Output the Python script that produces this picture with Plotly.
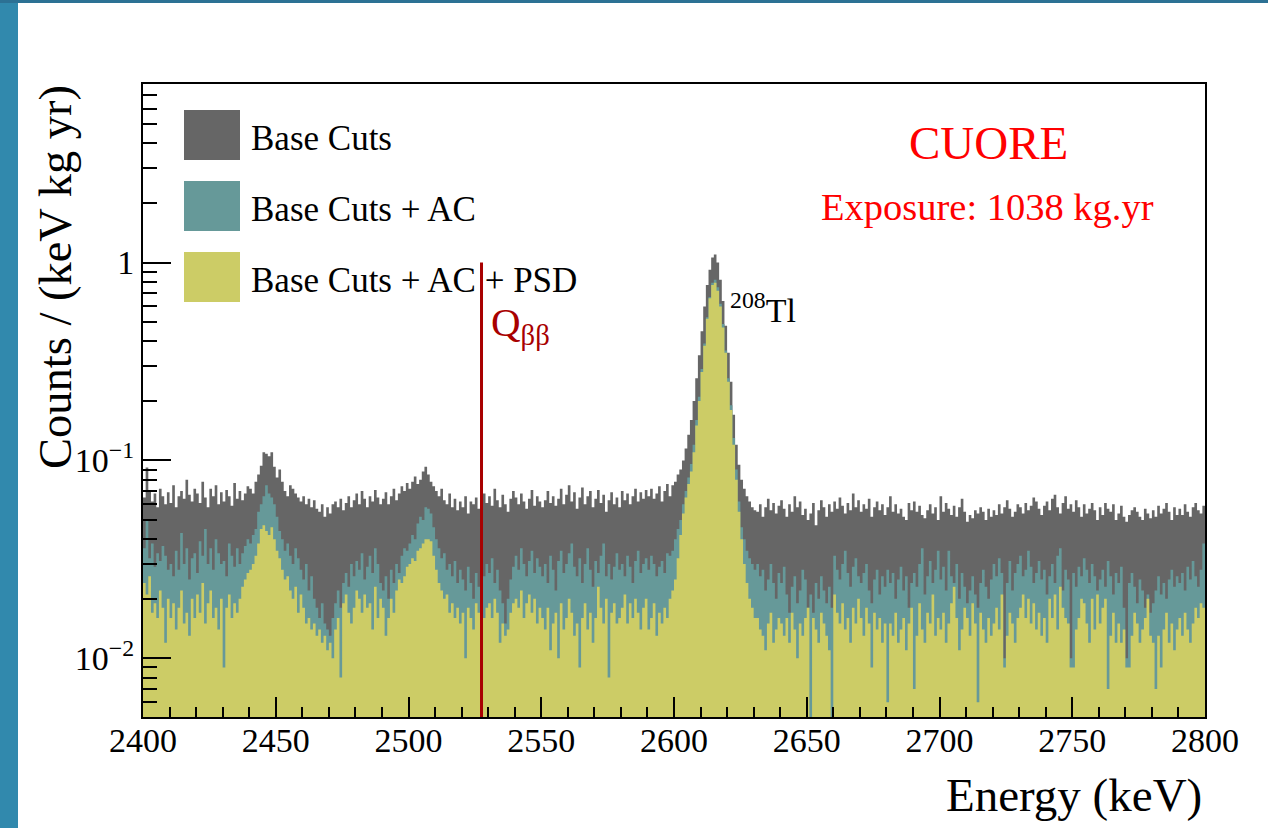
import plotly.graph_objects as go

# ---------------- data (counts / (keV kg yr), 1 keV bins from 2400 to 2800) ----------------
bin_start = 2400
bin_width = 1
q_bb = 2527.5

base_cuts = [
    0.065, 0.092, 0.07, 0.062, 0.068, 0.058, 0.072, 0.066, 0.06, 0.069,
    0.061, 0.075, 0.058, 0.066, 0.07, 0.064, 0.08, 0.067, 0.062, 0.072,
    0.068, 0.061, 0.078, 0.065, 0.058, 0.072, 0.066, 0.075, 0.06, 0.069,
    0.062, 0.071, 0.066, 0.059, 0.077, 0.064, 0.07, 0.063, 0.068, 0.074,
    0.072, 0.068, 0.078, 0.085, 0.094, 0.11, 0.108, 0.105, 0.11, 0.093,
    0.082, 0.09, 0.078, 0.07, 0.066, 0.075, 0.072, 0.068, 0.065, 0.062,
    0.066, 0.06, 0.064, 0.058, 0.063, 0.057, 0.055, 0.06, 0.052, 0.058,
    0.054, 0.06, 0.062, 0.058, 0.064, 0.056, 0.061, 0.066, 0.058, 0.063,
    0.068, 0.06, 0.07, 0.064, 0.058, 0.066, 0.062, 0.071, 0.065, 0.06,
    0.064, 0.069, 0.06, 0.066, 0.072, 0.063, 0.068, 0.074, 0.07, 0.077,
    0.072, 0.078, 0.083, 0.076, 0.08, 0.088, 0.093, 0.085, 0.078, 0.074,
    0.07, 0.066, 0.072, 0.063, 0.06, 0.068, 0.058, 0.064, 0.056, 0.062,
    0.058, 0.066, 0.054, 0.062, 0.06, 0.065, 0.057, 0.063, 0.068, 0.061,
    0.066, 0.059, 0.072, 0.063, 0.058, 0.067, 0.06, 0.055, 0.064, 0.07,
    0.065, 0.06, 0.068, 0.062, 0.057, 0.064, 0.071, 0.059, 0.066, 0.062,
    0.058, 0.063, 0.07, 0.061, 0.066, 0.059, 0.064, 0.072, 0.06, 0.067,
    0.075, 0.062, 0.069, 0.057, 0.065, 0.073, 0.06, 0.066, 0.07, 0.058,
    0.064, 0.071, 0.061, 0.067, 0.055, 0.063, 0.069, 0.06, 0.065, 0.058,
    0.07, 0.063, 0.068, 0.06, 0.066, 0.072, 0.062, 0.069, 0.064, 0.071,
    0.066, 0.072, 0.064, 0.068, 0.074, 0.062, 0.07, 0.076, 0.066, 0.075,
    0.078, 0.085, 0.09, 0.1, 0.115, 0.135, 0.16, 0.2, 0.26, 0.34,
    0.45, 0.6, 0.77, 0.92, 1.06, 1.1, 1.0, 0.82, 0.64, 0.48,
    0.35, 0.25, 0.17, 0.12, 0.095, 0.08, 0.072, 0.066, 0.062, 0.058,
    0.056, 0.055, 0.06, 0.052, 0.058, 0.064, 0.056, 0.061, 0.054, 0.059,
    0.063, 0.057, 0.052, 0.06, 0.055, 0.066, 0.058, 0.062, 0.053, 0.057,
    0.05, 0.054, 0.061, 0.047, 0.056, 0.063, 0.058, 0.052, 0.06, 0.055,
    0.062, 0.057, 0.065, 0.059, 0.054, 0.061, 0.056, 0.068, 0.058, 0.063,
    0.055, 0.06, 0.057, 0.064, 0.052, 0.058, 0.062, 0.056, 0.06, 0.053,
    0.058, 0.066, 0.055, 0.06, 0.054, 0.057, 0.052, 0.05, 0.061, 0.056,
    0.062, 0.055, 0.059, 0.053, 0.051, 0.056, 0.06, 0.054, 0.058, 0.05,
    0.066, 0.055, 0.061, 0.057, 0.053, 0.059, 0.052, 0.058, 0.064, 0.055,
    0.049, 0.053, 0.051, 0.056, 0.054, 0.058, 0.055, 0.05, 0.057, 0.052,
    0.056, 0.053, 0.06, 0.054, 0.058, 0.063, 0.057, 0.052, 0.055, 0.06,
    0.058, 0.054, 0.061, 0.056, 0.059, 0.065, 0.062, 0.057, 0.053, 0.059,
    0.062, 0.056, 0.064, 0.067, 0.058, 0.054, 0.061, 0.066, 0.057, 0.06,
    0.055, 0.063, 0.058, 0.052, 0.06, 0.054, 0.057, 0.061, 0.056, 0.05,
    0.058, 0.053, 0.061, 0.057, 0.055, 0.06, 0.05, 0.054, 0.059, 0.052,
    0.049, 0.053, 0.056, 0.058, 0.055, 0.052, 0.05, 0.057, 0.054, 0.051,
    0.056, 0.052, 0.059, 0.054, 0.057, 0.061, 0.055, 0.05, 0.058, 0.053,
    0.057, 0.053, 0.06, 0.055, 0.052, 0.058, 0.061, 0.056, 0.054, 0.059,
]

base_cuts_ac = [
    0.036, 0.05, 0.032, 0.038, 0.029, 0.034, 0.031, 0.037, 0.033, 0.028,
    0.03, 0.026, 0.035, 0.028, 0.043, 0.03, 0.036, 0.025, 0.032, 0.034,
    0.027, 0.039, 0.033, 0.045, 0.03, 0.036, 0.028, 0.04, 0.034, 0.03,
    0.031, 0.026, 0.038, 0.033, 0.029, 0.036, 0.03, 0.034, 0.037, 0.04,
    0.038, 0.042, 0.045, 0.055, 0.06, 0.066, 0.075, 0.068, 0.065, 0.06,
    0.052, 0.044, 0.04, 0.035, 0.038, 0.033, 0.03, 0.036, 0.032, 0.028,
    0.025, 0.03, 0.022, 0.026, 0.02, 0.018, 0.016, 0.019, 0.015, 0.014,
    0.013, 0.016, 0.019, 0.022, 0.018, 0.024, 0.027, 0.023, 0.03, 0.026,
    0.031, 0.028, 0.034, 0.025, 0.029, 0.033, 0.027, 0.036, 0.03, 0.024,
    0.022, 0.026, 0.02, 0.028, 0.024, 0.03, 0.027, 0.033, 0.036, 0.035,
    0.038, 0.042, 0.04, 0.048, 0.052, 0.05, 0.058, 0.057, 0.054, 0.046,
    0.04, 0.036, 0.032, 0.034, 0.028, 0.03, 0.026, 0.031, 0.024, 0.028,
    0.025, 0.022, 0.029, 0.024, 0.02, 0.027, 0.023, 0.018, 0.026, 0.03,
    0.027, 0.032, 0.024, 0.028, 0.022, 0.019, 0.015, 0.02, 0.025, 0.029,
    0.033, 0.028, 0.036, 0.03, 0.026, 0.031, 0.035, 0.027, 0.032, 0.029,
    0.026, 0.03, 0.024, 0.033, 0.028, 0.022, 0.031, 0.035, 0.027, 0.03,
    0.034, 0.038, 0.029, 0.026, 0.032, 0.024, 0.03, 0.036, 0.028, 0.023,
    0.031, 0.027, 0.033, 0.038, 0.026, 0.03, 0.025, 0.029, 0.034, 0.028,
    0.03, 0.026, 0.033, 0.029, 0.024, 0.031, 0.035, 0.027, 0.03, 0.032,
    0.028, 0.033, 0.03, 0.026, 0.029, 0.031, 0.027, 0.034, 0.033, 0.035,
    0.04, 0.045, 0.05, 0.06, 0.07, 0.082, 0.096, 0.12, 0.16, 0.21,
    0.29, 0.39, 0.53, 0.67, 0.79, 0.82, 0.75, 0.62, 0.49, 0.36,
    0.26, 0.19, 0.13, 0.09, 0.062, 0.046, 0.04, 0.035, 0.032, 0.03,
    0.028, 0.03, 0.026, 0.028, 0.022, 0.025, 0.03, 0.024, 0.02, 0.027,
    0.024, 0.029, 0.021, 0.017, 0.023, 0.026, 0.019, 0.022, 0.028, 0.025,
    0.018, 0.021, 0.017, 0.024, 0.02, 0.026, 0.022, 0.019, 0.023, 0.018,
    0.033, 0.028, 0.025, 0.03, 0.035, 0.027, 0.023, 0.029, 0.032, 0.026,
    0.024, 0.027, 0.03, 0.022, 0.019, 0.025, 0.028, 0.021, 0.026, 0.023,
    0.028, 0.024, 0.027, 0.02, 0.025, 0.029, 0.022, 0.026, 0.018, 0.024,
    0.027, 0.023, 0.03, 0.036, 0.021, 0.026, 0.031, 0.024, 0.028, 0.035,
    0.025, 0.029, 0.022, 0.035, 0.026, 0.024, 0.03, 0.02, 0.027, 0.023,
    0.019, 0.022, 0.026, 0.021, 0.018, 0.024, 0.028, 0.023, 0.02, 0.025,
    0.03, 0.026, 0.032, 0.027, 0.01, 0.024, 0.031, 0.022, 0.027, 0.03,
    0.033, 0.026, 0.028, 0.035, 0.029, 0.024, 0.027, 0.031, 0.025, 0.028,
    0.021, 0.026, 0.03, 0.024, 0.033, 0.036, 0.022, 0.028, 0.025, 0.01,
    0.027, 0.023, 0.029, 0.026, 0.032, 0.028, 0.024, 0.03, 0.026, 0.022,
    0.025, 0.028, 0.023, 0.031, 0.026, 0.021, 0.027, 0.024, 0.029, 0.018,
    0.01, 0.024, 0.027, 0.023, 0.019, 0.025, 0.022, 0.018, 0.021, 0.017,
    0.019, 0.022, 0.026, 0.021, 0.024, 0.02, 0.025, 0.028, 0.023, 0.026,
    0.024, 0.027, 0.022, 0.029, 0.025, 0.031, 0.026, 0.023, 0.028, 0.038,
]

base_cuts_ac_psd = [
    0.024, 0.021, 0.026, 0.017, 0.019, 0.016, 0.022, 0.018, 0.012, 0.02,
    0.016, 0.019, 0.014, 0.018, 0.022, 0.015, 0.017, 0.013, 0.02, 0.016,
    0.021, 0.017, 0.024, 0.015, 0.019, 0.022, 0.016, 0.018, 0.014, 0.02,
    0.009, 0.018, 0.021, 0.016, 0.019, 0.017, 0.02, 0.023, 0.025, 0.027,
    0.028, 0.03, 0.033, 0.038, 0.045, 0.047, 0.044, 0.042, 0.046, 0.04,
    0.035, 0.032, 0.028, 0.025, 0.026, 0.022, 0.02, 0.023, 0.017, 0.021,
    0.018, 0.015, 0.016, 0.014, 0.015, 0.013, 0.014, 0.012, 0.013, 0.011,
    0.012, 0.01, 0.014, 0.016, 0.008, 0.019, 0.021, 0.017, 0.015, 0.018,
    0.022, 0.02, 0.017, 0.021, 0.018, 0.019, 0.014, 0.023, 0.016, 0.02,
    0.018, 0.013, 0.016, 0.02, 0.017, 0.022, 0.025, 0.024, 0.026, 0.029,
    0.03, 0.032, 0.031, 0.035, 0.036, 0.038, 0.04, 0.04, 0.039, 0.033,
    0.028, 0.024, 0.022, 0.02, 0.021, 0.017, 0.019, 0.016, 0.018, 0.015,
    0.017, 0.01, 0.018, 0.016, 0.014, 0.019, 0.017, 0.015, 0.016, 0.018,
    0.019, 0.016, 0.02, 0.017, 0.012, 0.015, 0.013, 0.014, 0.017, 0.019,
    0.02, 0.018, 0.022, 0.016, 0.019, 0.021, 0.017, 0.02, 0.015, 0.018,
    0.016, 0.014, 0.018, 0.011, 0.015, 0.017, 0.01, 0.019, 0.014, 0.016,
    0.02, 0.017, 0.013, 0.015, 0.009, 0.016, 0.019, 0.014, 0.017, 0.012,
    0.016, 0.023, 0.018, 0.015, 0.02, 0.008, 0.017, 0.019, 0.015, 0.016,
    0.018, 0.021, 0.015, 0.019, 0.016, 0.02, 0.017, 0.014, 0.018, 0.02,
    0.014, 0.016, 0.019, 0.013, 0.017, 0.015, 0.018, 0.016, 0.02, 0.022,
    0.025, 0.032, 0.042, 0.054, 0.065, 0.076, 0.088, 0.11, 0.15, 0.2,
    0.28, 0.38, 0.52, 0.66, 0.77, 0.79, 0.72, 0.6, 0.47, 0.35,
    0.25, 0.18, 0.12, 0.08, 0.055, 0.04, 0.03, 0.024, 0.02, 0.018,
    0.016, 0.016, 0.014, 0.013, 0.011, 0.015, 0.017, 0.012, 0.014, 0.016,
    0.015, 0.013, 0.016, 0.012, 0.017, 0.014, 0.01, 0.015, 0.013, 0.016,
    0.018, 0.005, 0.016, 0.014, 0.012, 0.017, 0.015, 0.013, 0.011, 0.005,
    0.021, 0.017, 0.015, 0.019, 0.014, 0.016, 0.012, 0.018, 0.015, 0.02,
    0.016, 0.013, 0.018, 0.015, 0.009, 0.017, 0.014, 0.016, 0.012, 0.015,
    0.006, 0.015, 0.013, 0.017, 0.012, 0.014, 0.016, 0.011, 0.015, 0.018,
    0.007, 0.013, 0.019, 0.014, 0.012, 0.017, 0.015, 0.021, 0.013, 0.016,
    0.014, 0.017, 0.012, 0.015, 0.019, 0.023, 0.016, 0.011, 0.014, 0.018,
    0.016, 0.013, 0.019, 0.015, 0.006, 0.017, 0.014, 0.012, 0.016, 0.013,
    0.015, 0.018, 0.014, 0.021, 0.009, 0.013, 0.017, 0.015, 0.012, 0.016,
    0.018, 0.021, 0.016, 0.02, 0.015, 0.019, 0.014, 0.017, 0.013, 0.016,
    0.012, 0.02, 0.016, 0.021, 0.014, 0.023, 0.018, 0.016, 0.015, 0.009,
    0.009, 0.014, 0.016, 0.02, 0.019, 0.015, 0.012, 0.02, 0.014, 0.021,
    0.015, 0.018, 0.02, 0.007, 0.013, 0.017, 0.012, 0.015, 0.012, 0.014,
    0.009, 0.009, 0.013, 0.017, 0.015, 0.012, 0.014, 0.016, 0.02, 0.013,
    0.012, 0.007, 0.013, 0.009, 0.014, 0.017, 0.012, 0.015, 0.011, 0.014,
    0.016, 0.013, 0.017, 0.014, 0.012, 0.015, 0.018, 0.016, 0.019, 0.018,
]

series_names = ["Base Cuts", "Base Cuts + AC", "Base Cuts + AC + PSD"]
series_colors = ["#666666", "#669999", "#cccc66"]
y_tick_vals = [0.01, 0.1, 1]
y_tick_text = ["10<sup>\u22122</sup>", "10<sup>\u22121</sup>", "1"]
x_tick_vals = [2400, 2450, 2500, 2550, 2600, 2650, 2700, 2750, 2800]

assert len(base_cuts) == len(base_cuts_ac) == len(base_cuts_ac_psd) == 400

# ---------------- figure geometry (pixels) ----------------
W, H = 1268, 828
L, R, T, B = 143, 1205, 84, 717
PW, PH = R - L, B - T


def px(x):
    return (x - L) / PW


def py(y):
    return (B - y) / PH


FONT = "Liberation Serif, Times New Roman, serif"
n_bins = len(base_cuts)
edges = [bin_start + i * bin_width for i in range(n_bins + 1)]
floor = 1e-4


def step_polygon(vals):
    xs, ys = [edges[0]], [floor]
    for i, v in enumerate(vals):
        xs += [edges[i], edges[i + 1]]
        ys += [v, v]
    xs.append(edges[-1])
    ys.append(floor)
    return xs, ys


fig = go.Figure()
for name, vals, col in zip(series_names, [base_cuts, base_cuts_ac, base_cuts_ac_psd], series_colors):
    xs, ys = step_polygon(vals)
    fig.add_trace(go.Scatter(x=xs, y=ys, mode="lines", fill="toself", fillcolor=col,
                             line=dict(width=0, color=col), name=name, showlegend=False,
                             hoverinfo="skip"))

# Q_bb line
fig.add_trace(go.Scatter(x=[q_bb, q_bb], y=[1.0, floor], mode="lines",
                         line=dict(color="#a80000", width=3), showlegend=False, hoverinfo="skip"))

minor_y = [d * 10.0 ** e for e in (-3, -2, -1, 0) for d in range(2, 10)]

fig.update_layout(
    width=W, height=H, autosize=False,
    margin=dict(l=L, r=W - R, t=T, b=H - B, pad=0),
    paper_bgcolor="white", plot_bgcolor="white",
    font=dict(family=FONT, color="black", size=34),
    showlegend=False,
    xaxis=dict(range=[2400, 2800], tickvals=x_tick_vals, ticks="inside", ticklen=20, tickwidth=1.5,
               tickcolor="black", showgrid=False, zeroline=False, showline=True, mirror=True,
               linecolor="black", linewidth=2, tickfont=dict(size=34, family=FONT),
               ticklabelstandoff=-8,
               minor=dict(ticks="inside", ticklen=10, tickwidth=1.5, tickcolor="black", dtick=10, tick0=2400,
                          showgrid=False)),
    yaxis=dict(type="log", range=[-2.2965, 0.9025], tickvals=y_tick_vals, ticktext=y_tick_text,
               ticks="inside", ticklen=28, tickwidth=1.5, tickcolor="black", showgrid=False, zeroline=False,
               showline=True, mirror=True, linecolor="black", linewidth=2, tickfont=dict(size=34, family=FONT),
               minor=dict(ticks="inside", ticklen=14, tickwidth=1.5, tickcolor="black", tickvals=minor_y,
                          showgrid=False)),
)

shapes = []
# slide background strips
shapes.append(dict(type="rect", xref="paper", yref="paper", x0=px(0), x1=px(18), y0=py(H), y1=py(0),
                   fillcolor="#3189ad", line=dict(width=0), layer="below"))
shapes.append(dict(type="rect", xref="paper", yref="paper", x0=px(0), x1=px(W), y0=py(3), y1=py(0),
                   fillcolor="#2c7194", line=dict(width=0), layer="below"))

annotations = []
legend_rows = [(110, 160), (181, 231), (252, 302)]
for (y0, y1), name, col in zip(legend_rows, series_names, series_colors):
    shapes.append(dict(type="rect", xref="paper", yref="paper", x0=px(184), x1=px(240), y0=py(y1), y1=py(y0),
                       fillcolor=col, line=dict(width=0)))
    annotations.append(dict(xref="paper", yref="paper", x=px(249), y=py((y0 + y1) / 2 + 3), text=name,
                            showarrow=False, xanchor="left", yanchor="middle",
                            font=dict(family=FONT, size=35, color="black")))

annotations += [
    dict(xref="paper", yref="paper", x=px(988), y=py(143), text="CUORE", showarrow=False,
         xanchor="center", yanchor="middle", font=dict(family=FONT, size=47, color="#ff0000")),
    dict(xref="paper", yref="paper", x=px(987), y=py(207), text="Exposure: 1038 kg.yr", showarrow=False,
         xanchor="center", yanchor="middle", font=dict(family=FONT, size=38.5, color="#ff0000")),
    dict(xref="paper", yref="paper", x=px(489), y=py(325), text="Q<sub>\u03b2\u03b2</sub>", showarrow=False,
         xanchor="left", yanchor="middle", font=dict(family=FONT, size=41, color="#a80000")),
    dict(xref="paper", yref="paper", x=px(728), y=py(308), text="<sup>208</sup>Tl", showarrow=False,
         xanchor="left", yanchor="middle", font=dict(family=FONT, size=34, color="black")),
    dict(xref="paper", yref="paper", x=px(55), y=py(277), text="Counts / (keV kg yr)", showarrow=False,
         textangle=-90, xanchor="center", yanchor="middle", font=dict(family=FONT, size=46.5, color="black")),
    dict(xref="paper", yref="paper", x=px(1204), y=py(795), text="Energy (keV)", showarrow=False,
         xanchor="right", yanchor="middle", font=dict(family=FONT, size=47, color="black")),
]

fig.update_layout(shapes=shapes, annotations=annotations)
fig.write_html("out.html")
